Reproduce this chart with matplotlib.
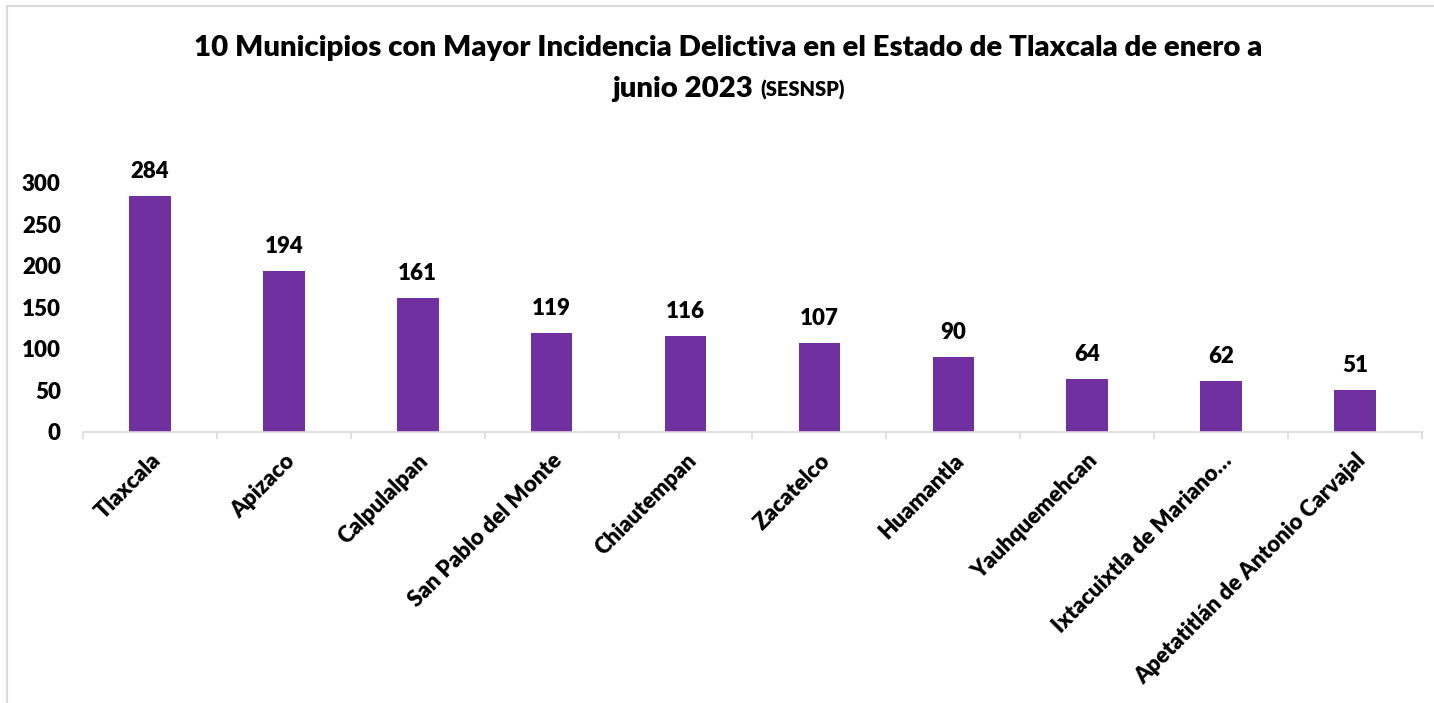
import matplotlib.pyplot as plt
from matplotlib.patches import Rectangle

municipios = ["Tlaxcala", "Apizaco", "Calpulalpan", "San Pablo del Monte",
              "Chiautempan", "Zacatelco", "Huamantla", "Yauhquemehcan",
              "Ixtacuixtla de Mariano…", "Apetatitlán de Antonio Carvajal"]
delitos = [284, 194, 161, 119, 116, 107, 90, 64, 62, 51]

peso = "heavy"
plt.rcParams['font.family'] = ['Lato', 'DejaVu Sans']
plt.rcParams['font.weight'] = peso

fig = plt.figure(figsize=(14.34, 7.03), dpi=100)
ax = fig.add_axes([0.0579, 0.3855, 0.9337, 0.3542])

x = range(len(municipios))
barras = ax.bar(x, delitos, 0.31, color="#7030A0")
for b, v in zip(barras, delitos):
    ax.annotate(str(v), (b.get_x() + b.get_width() / 2, v), xytext=(0, 10),
                textcoords="offset points", ha="center", va="bottom",
                fontsize=16, fontweight=peso)

ax.set_xlim(-0.5, len(municipios) - 0.5)
ax.set_ylim(0, 300)
ax.set_yticks([0, 50, 100, 150, 200, 250, 300])
ax.tick_params(axis="y", length=0, pad=16, labelsize=16)
ax.set_xticks(list(x))
ax.set_xticklabels(municipios, rotation=45, ha="right", rotation_mode="anchor",
                   fontsize=16, fontweight=peso)
ax.tick_params(axis="x", which="major", length=0, pad=13)
ax.set_xticks([i - 0.5 for i in range(len(municipios) + 1)], minor=True)
ax.tick_params(axis="x", which="minor", length=5, color="#D9D9D9", width=1.2)
for s in ["top", "right", "left"]:
    ax.spines[s].set_visible(False)
ax.spines["bottom"].set_color("#D9D9D9")
ax.spines["bottom"].set_linewidth(1.2)

fig.text(0.508, 0.932, "10 Municipios con Mayor Incidencia Delictiva en el Estado de Tlaxcala de enero a",
         ha="center", va="center", fontsize=21.2, fontweight=peso)
fig.canvas.draw()
r = fig.canvas.get_renderer()
t1 = fig.text(0, 0.862, "junio 2023 ", ha="left", va="baseline", fontsize=21.2, fontweight=peso)
t2 = fig.text(0, 0.862, "(SESNSP)", ha="left", va="baseline", fontsize=14.5, fontweight=peso)
w1 = t1.get_window_extent(r).width
w2 = t2.get_window_extent(r).width
x0 = 0.508 * fig.bbox.width - (w1 + w2) / 2
t1.set_x(x0 / fig.bbox.width)
t2.set_x((x0 + w1) / fig.bbox.width)

fig.patches.append(Rectangle((0.0049, -0.1), 1.2, 1.0915, transform=fig.transFigure,
                             fill=False, edgecolor="#D9D9D9", linewidth=1.5))

fig.savefig("out.png", dpi=100)
